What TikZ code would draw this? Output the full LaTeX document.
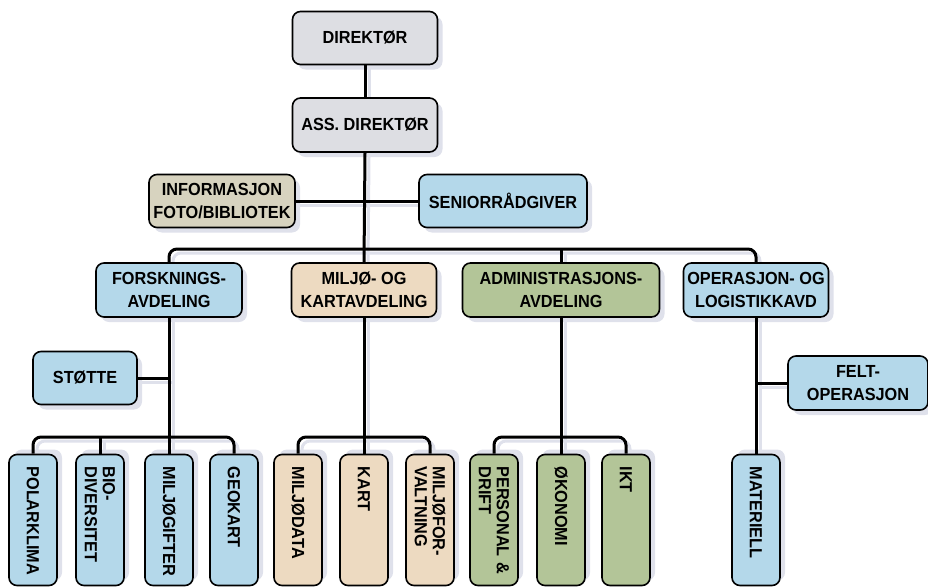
\documentclass[tikz,border=0pt]{standalone}
\usepackage{fontspec}
\setmainfont[FakeStretch=0.93]{Liberation Sans}
\usetikzlibrary{shadows}

\pgfdeclarelayer{bg}
\pgfdeclarelayer{fg}
\pgfsetlayers{bg,main,fg}

\definecolor{greybox}{HTML}{DDDEE3}
\definecolor{infobox}{HTML}{D7D3BF}
\definecolor{bluebox}{HTML}{B4D8EA}
\definecolor{peachbox}{HTML}{EDDAC1}
\definecolor{greenbox}{HTML}{B3C598}
\definecolor{shadowc}{HTML}{DFE1EB}

\tikzset{
  basebox/.style={draw, line width=1.6pt, rounded corners=8pt, inner sep=2pt,
    font=\bfseries\fontsize{17.5}{23}\selectfont},
  box/.style={basebox, align=center,
    drop shadow={shadow xshift=5pt, shadow yshift=-5pt, fill=shadowc, opacity=1}},
  sidebox/.style={basebox, rotate=-90, minimum width=131pt, minimum height=48pt,
    text width=107pt, inner xsep=12pt, align=left,
    font=\bfseries\fontsize{17.5}{18}\selectfont,
    drop shadow={shadow xshift=5pt, shadow yshift=5pt, fill=shadowc, opacity=1}},
  link/.style={line width=3pt, rounded corners=8pt},
  linkshadow/.style={link, draw=shadowc, transform canvas={shift={(4pt,-4pt)}}}
}

% all connectors, drawn once as shadow and once in black
\newcommand\orglinks[1]{%
  \draw[#1] (dir.south) -- (ass.north);
  \draw[#1] (ass.south) -- (milj.north);
  \draw[#1] (info.east) -- (senior.west);
  \draw[#1] (forsk.north) -- (forsk.north |- bus) -- (ops.north |- bus) -- (ops.north);
  \draw[#1] (admin.north) -- (admin.north |- bus);
  % forskning
  \draw[#1] (stotte.east) -- (stotte.east -| forsk.south);
  \draw[#1] (forsk.south) -- (mgift.west);
  \draw[#1] (polar.west) -- (polar.west |- subbus) -- (geo.west |- subbus) -- (geo.west);
  \draw[#1] (bio.west) -- (bio.west |- subbus);
  % miljo og kart
  \draw[#1] (milj.south) -- (kart.west);
  \draw[#1] (mdata.west) -- (mdata.west |- subbus) -- (mforv.west |- subbus) -- (mforv.west);
  % administrasjon
  \draw[#1] (admin.south) -- (okon.west);
  \draw[#1] (pers.west) -- (pers.west |- subbus) -- (ikt.west |- subbus) -- (ikt.west);
  % operasjon
  \draw[#1] (ops.south) -- (mat.west);
  \draw[#1] (felt.west) -- (felt.west -| ops.south);
}

\begin{document}
\begin{tikzpicture}[x=1pt,y=-1pt]
\useasboundingbox (0,0) rectangle (928,586);

\coordinate (bus) at (0,249);
\coordinate (subbus) at (0,437);

% ledelse
\node[box, fill=greybox, minimum width=145pt, minimum height=53pt] (dir) at (365,38) {DIREKTØR};
\node[box, fill=greybox, minimum width=145pt, minimum height=54pt] (ass) at (365,125) {ASS.\ DIREKTØR};
\node[box, fill=infobox, minimum width=146pt, minimum height=53pt] (info) at (222,201) {INFORMASJON\\FOTO/BIBLIOTEK};
\node[box, fill=bluebox, minimum width=168pt, minimum height=53pt] (senior) at (503,201) {SENIORRÅDGIVER};

% avdelinger
\node[box, fill=bluebox, minimum width=146pt, minimum height=54pt] (forsk) at (169,290) {FORSKNINGS-\\AVDELING};
\node[box, fill=peachbox, minimum width=145pt, minimum height=54pt] (milj) at (364,290) {MILJØ- OG\\KARTAVDELING};
\node[box, fill=greenbox, minimum width=197pt, minimum height=54pt] (admin) at (561,290) {ADMINISTRASJONS-\\AVDELING};
\node[box, fill=bluebox, minimum width=145pt, minimum height=54pt] (ops) at (756,290) {OPERASJON- OG\\LOGISTIKKAVD};
\node[box, fill=bluebox, minimum width=104pt, minimum height=53pt] (stotte) at (85,378) {STØTTE};
\node[box, fill=bluebox, minimum width=140pt, minimum height=54pt] (felt) at (858,383) {FELT-\\OPERASJON};

% seksjoner
\node[sidebox, fill=bluebox] (polar) at (33,520) {POLARKLIMA};
\node[sidebox, fill=bluebox] (bio) at (100,520) {BIO-\\DIVERSITET};
\node[sidebox, fill=bluebox] (mgift) at (169,520) {MILJØGIFTER};
\node[sidebox, fill=bluebox] (geo) at (234,520) {GEOKART};
\node[sidebox, fill=peachbox] (mdata) at (298,520) {MILJØDATA};
\node[sidebox, fill=peachbox] (kart) at (364,520) {KART};
\node[sidebox, fill=peachbox] (mforv) at (430,520) {MILJØFOR-\\VALTNING};
\node[sidebox, fill=greenbox] (pers) at (494,520) {\mbox{PERSONAL \&}\\DRIFT};
\node[sidebox, fill=greenbox] (okon) at (561,520) {ØKONOMI};
\node[sidebox, fill=greenbox] (ikt) at (626,520) {IKT};
\node[sidebox, fill=bluebox] (mat) at (756,520) {MATERIELL};

\begin{pgfonlayer}{bg}
  \orglinks{linkshadow}
\end{pgfonlayer}
\begin{pgfonlayer}{fg}
  \orglinks{link}
\end{pgfonlayer}
\end{tikzpicture}
\end{document}
